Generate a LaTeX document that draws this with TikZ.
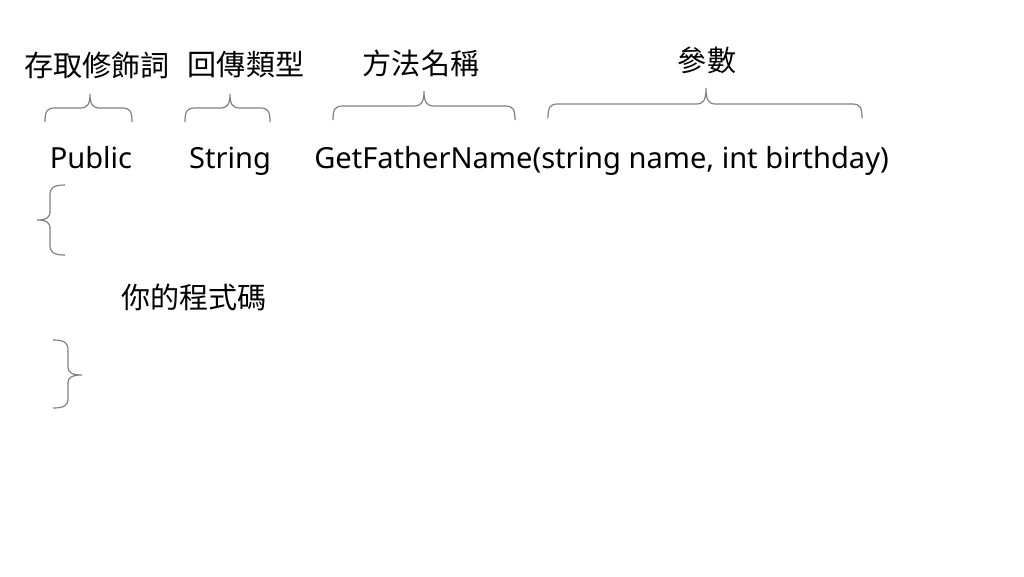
\documentclass[tikz,border=0pt]{standalone}
\usepackage{fontspec}
\setmainfont{Noto Sans}
\newfontfamily\cjk{Noto Sans CJK TC}
\tikzset{
  brc/.style={draw=black!50, line width=0.9pt},
  lbl/.style={font=\cjk\fontsize{21.8}{24}\selectfont, inner sep=0pt},
  code/.style={font=\fontsize{21.8}{24}\selectfont, inner sep=0pt, anchor=base},
}
\newcommand{\hbr}[6]{% x1 x2 xm ybottom yflat ytip
  \draw[brc] (#1,#4) .. controls (#1,#5+3) and (#1+2,#5) .. (#1+10,#5)
    -- (#3-10,#5) .. controls (#3-3,#5) and (#3,#5-3) .. (#3,#6)
    .. controls (#3,#5-3) and (#3+3,#5) .. (#3+10,#5)
    -- (#2-10,#5) .. controls (#2-2,#5) and (#2,#5+3) .. (#2,#4);}
\begin{document}
\begin{tikzpicture}[x=0.75pt,y=-0.75pt]
\useasboundingbox (0,0) rectangle (1024,576);
% labels
\node[lbl] (mod) at (97,65) {存取修飾詞};
\node[lbl] (ret) at (246,65) {回傳類型};
\node[lbl] (name) at (421,63) {方法名稱};
\node[lbl] (par) at (707,60) {參數};
% braces
\hbr{45}{132}{90}{122}{108}{94}
\hbr{185}{270}{230}{122}{108}{94}
\hbr{333}{515}{424}{120}{106}{91}
\hbr{548}{862}{706}{118}{104}{88}
% code line
\node[code] (pub) at (91,168) {Public};
\node[code] (str) at (230,168) {String};
\node[code, anchor=base west] (sig) at (314,168) {GetFatherName(string name, int birthday)};
% body
\draw[brc] (65,185) .. controls (53,185) and (50,188) .. (50,195)
  -- (50,212) .. controls (50,217) and (47,220) .. (37,220)
  .. controls (47,220) and (50,223) .. (50,228)
  -- (50,245) .. controls (50,252) and (53,255) .. (65,255);
\node[lbl] (body) at (194,297) {你的程式碼};
\draw[brc] (53,340) .. controls (65,340) and (68,343) .. (68,350)
  -- (68,367) .. controls (68,372) and (71,375) .. (82,375)
  .. controls (71,375) and (68,378) .. (68,383)
  -- (68,398) .. controls (68,405) and (65,408) .. (53,408);
\end{tikzpicture}
\end{document}
